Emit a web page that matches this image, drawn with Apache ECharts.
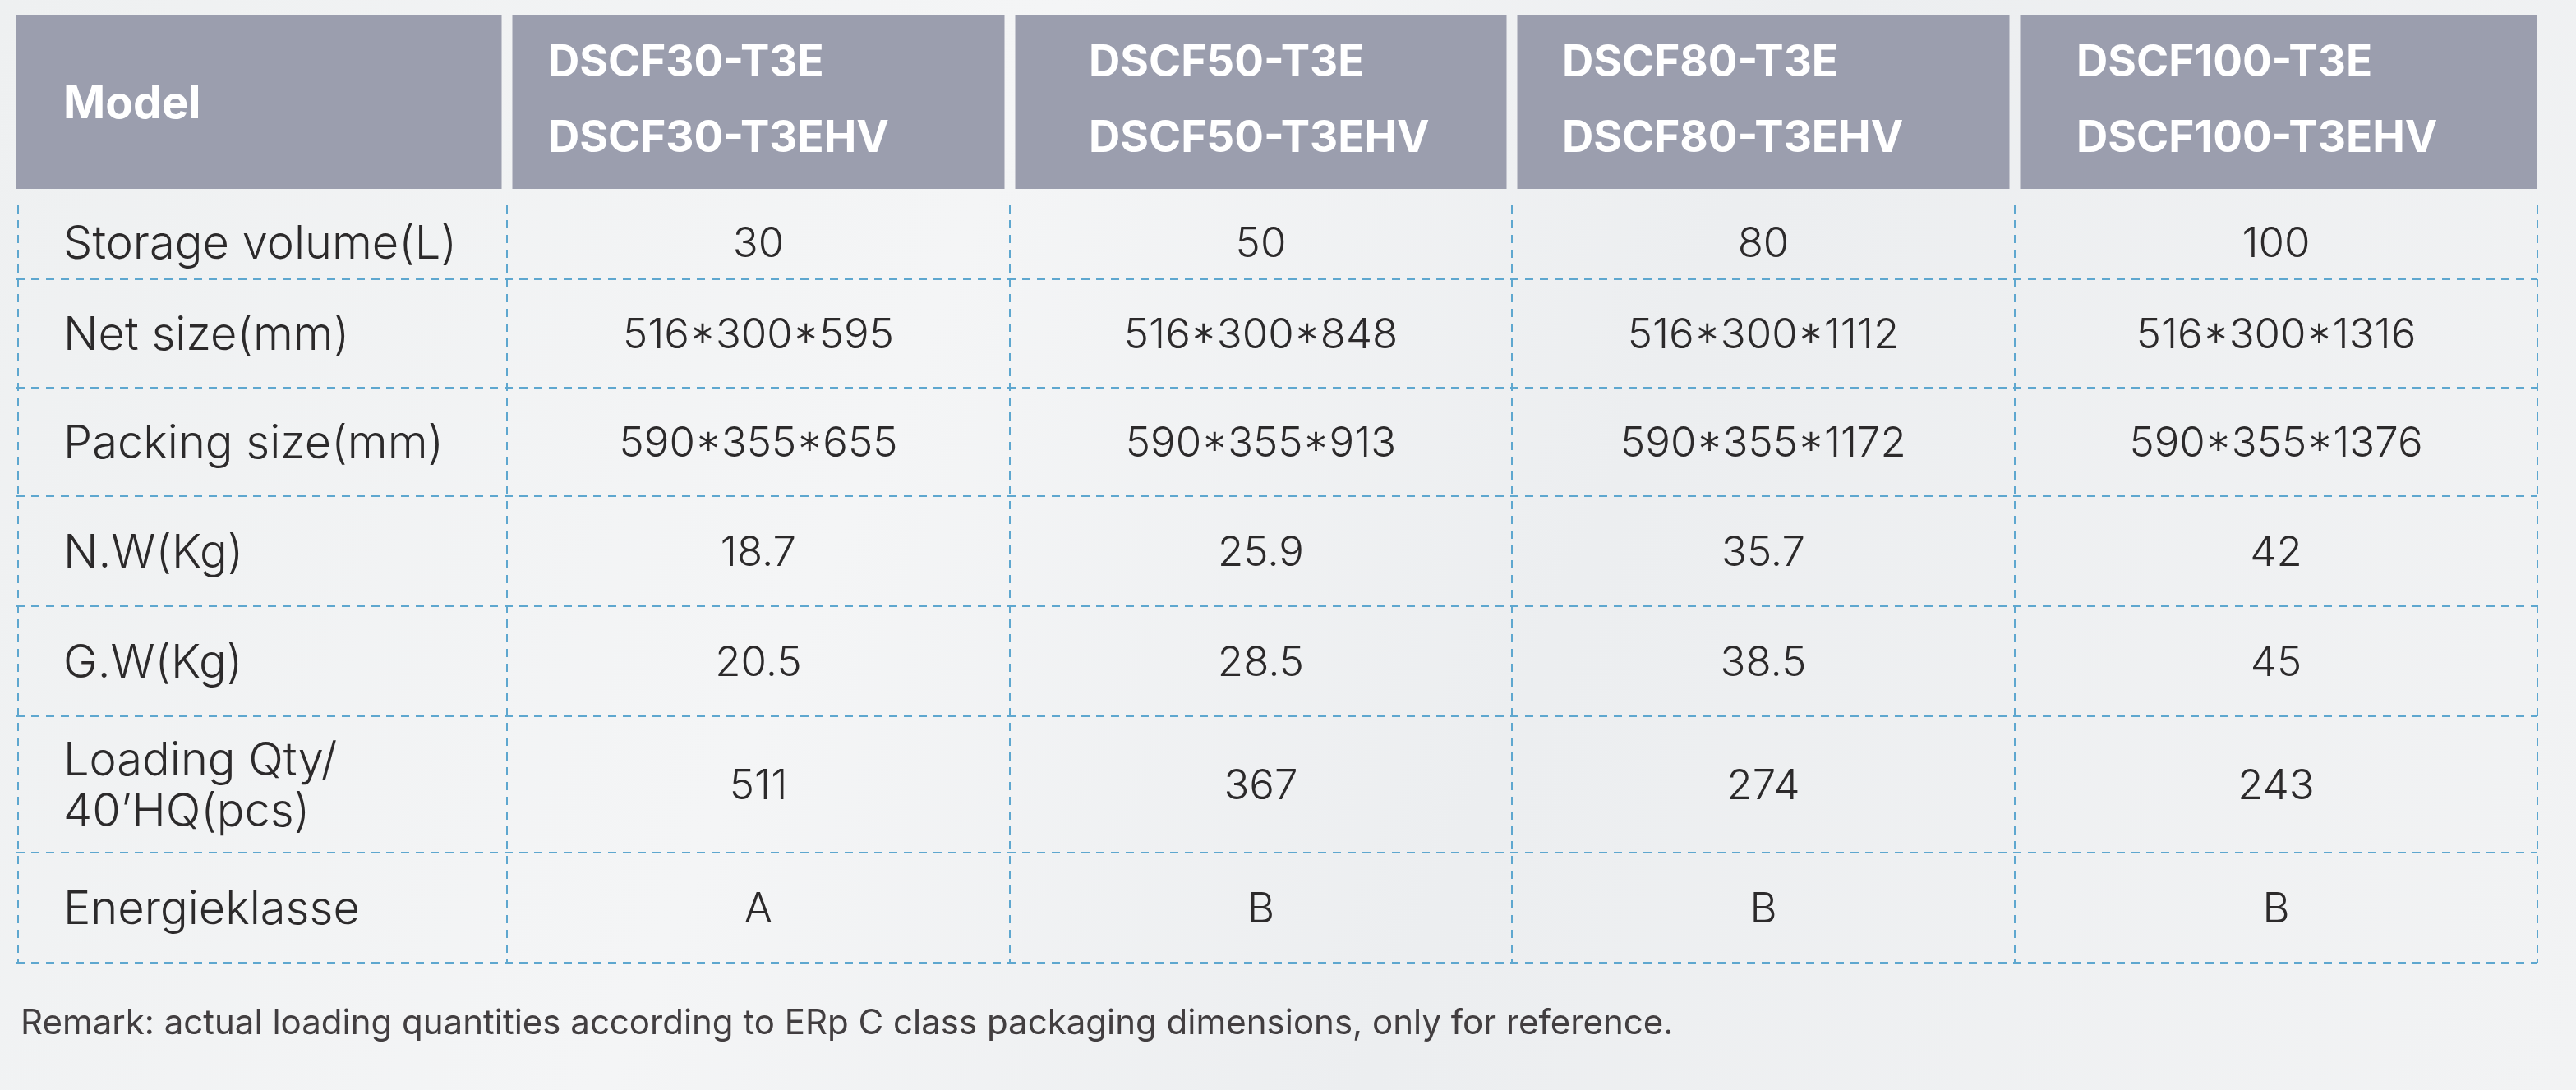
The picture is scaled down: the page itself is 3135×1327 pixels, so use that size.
<!DOCTYPE html>
<html><head><meta charset="utf-8">
<script src="https://cdn.jsdelivr.net/npm/echarts@6/dist/echarts.min.js"></script>
<style>html,body{margin:0;padding:0;background:#f1f2f3;}#chart{width:3135px;height:1327px;}</style>
</head><body><div id="chart"></div>
<script>
// ---- data ----
const headerLabel = 'Model';
const modelNames = [
  ['DSCF30-T3E', 'DSCF30-T3EHV'],
  ['DSCF50-T3E', 'DSCF50-T3EHV'],
  ['DSCF80-T3E', 'DSCF80-T3EHV'],
  ['DSCF100-T3E', 'DSCF100-T3EHV']
];
const rowLabels = ['Storage volume(L)', 'Net size(mm)', 'Packing size(mm)', 'N.W(Kg)', 'G.W(Kg)', 'Loading Qty/\n40’HQ(pcs)', 'Energieklasse'];
const dscf30 = ['30', '516*300*595', '590*355*655', '18.7', '20.5', '511', 'A'];
const dscf50 = ['50', '516*300*848', '590*355*913', '25.9', '28.5', '367', 'B'];
const dscf80 = ['80', '516*300*1112', '590*355*1172', '35.7', '38.5', '274', 'B'];
const dscf100 = ['100', '516*300*1316', '590*355*1376', '42', '45', '243', 'B'];
const remark = 'Remark: actual loading quantities according to ERp C class packaging dimensions, only for reference.';

// ---- layout (not data) ----
const colWidths = [597, 612, 611, 612, 636];
const headerTextOffsets = [57, 50, 96, 61, 75];
const headerHeight = 212, headerGap = 20;
const rowHeights = [90, 132, 132, 134, 134, 166, 134];
const FONT = 'Inter, "Open Sans", Lato, sans-serif';
const HEADER_FILL = '#9b9eae';
const LINE_COLOR = '#5ea7cf';

const colEdges = [0];
colWidths.forEach(w => colEdges.push(colEdges[colEdges.length - 1] + w));
const rowEdges = [headerHeight + headerGap];
rowHeights.forEach(h => rowEdges.push(rowEdges[rowEdges.length - 1] + h));
const totalW = colEdges[colEdges.length - 1];
const totalH = rowEdges[rowEdges.length - 1];

const valueCols = [dscf30, dscf50, dscf80, dscf100];

// cell data: [col, row]  (row -1 = header)
const cellData = [];
for (let c = 0; c < 5; c++) cellData.push([c, -1]);
for (let r = 0; r < rowLabels.length; r++) for (let c = 0; c < 5; c++) cellData.push([c, r]);

function cellText(c, r) {
  if (r < 0) return c === 0 ? headerLabel : modelNames[c - 1].join('\n');
  return c === 0 ? rowLabels[r] : valueCols[c - 1][r];
}

// grid lines data: [0, colEdgeIndex] vertical / [1, rowEdgeIndex] horizontal
const lineData = [];
for (let i = 0; i < colEdges.length; i++) lineData.push([0, i]);
for (let j = 1; j < rowEdges.length; j++) lineData.push([1, j]);

const chart = echarts.init(document.getElementById('chart'), null, {renderer: 'canvas'});
chart.setOption({
  backgroundColor: {
    type: 'linear', x: 0, y: 0, x2: 1, y2: 1,
    colorStops: [
      {offset: 0, color: '#eef0f1'},
      {offset: 0.35, color: '#f4f5f6'},
      {offset: 0.6, color: '#eceef0'},
      {offset: 1, color: '#f2f3f4'}
    ]
  },
  animation: false,
  title: {
    text: remark, left: 20, top: 1220,
    textStyle: {fontFamily: FONT, fontSize: 42, fontWeight: 'normal', color: '#423e40'}
  },
  grid: {left: 20, right: 47, top: 18, bottom: 155},
  xAxis: {type: 'value', min: 0, max: totalW, show: false},
  yAxis: {type: 'value', min: 0, max: totalH, inverse: true, show: false},
  series: [
    {
      type: 'custom',
      data: lineData,
      silent: true,
      renderItem: function (params, api) {
        const kind = api.value(0), idx = api.value(1);
        let a, b;
        if (kind === 0) {
          a = api.coord([colEdges[idx], rowEdges[0]]);
          b = api.coord([colEdges[idx], totalH]);
          const x = idx === 0 ? a[0] + 2 : a[0];
          return {type: 'line', shape: {x1: x, y1: a[1], x2: x, y2: b[1]},
            style: {stroke: LINE_COLOR, lineWidth: 2, lineDash: [10, 8]}};
        }
        a = api.coord([0, rowEdges[idx]]);
        b = api.coord([totalW, rowEdges[idx]]);
        return {type: 'line', shape: {x1: a[0], y1: a[1], x2: b[0], y2: b[1]},
          style: {stroke: LINE_COLOR, lineWidth: 2, lineDash: [10, 8]}};
      }
    },
    {
      type: 'custom',
      data: cellData,
      silent: true,
      renderItem: function (params, api) {
        const c = api.value(0), r = api.value(1);
        const txt = cellText(c, r);
        if (r < 0) {
          const p0 = api.coord([colEdges[c], 0]);
          const p1 = api.coord([colEdges[c + 1], headerHeight]);
          const inL = c === 0 ? 0 : 6.5, inR = c === 4 ? 0 : 6.5;
          const x0 = p0[0] + inL, x1 = p1[0] - inR;
          const font = (c === 0 ? '700 55px ' : '700 53px ') + FONT;
          return {
            type: 'group',
            children: [
              {type: 'rect', shape: {x: x0, y: p0[1], width: x1 - x0, height: p1[1] - p0[1]},
                style: {fill: HEADER_FILL}},
              {type: 'text', x: p0[0] + headerTextOffsets[c], y: (p0[1] + p1[1]) / 2 + (c === 0 ? 3 : -1),
                style: {text: txt, fill: '#ffffff', font: font, align: 'left', verticalAlign: 'middle', lineHeight: 92}}
            ]
          };
        }
        const p0 = api.coord([colEdges[c], rowEdges[r]]);
        const p1 = api.coord([colEdges[c + 1], rowEdges[r + 1]]);
        const font = (c === 0 ? '300 56px ' : '300 51px ') + FONT;
        return {
          type: 'text',
          x: c === 0 ? p0[0] + 57 : (p0[0] + p1[0]) / 2,
          y: (p0[1] + p1[1]) / 2 + 3,
          style: {text: txt, fill: '#2c2a2b', font: font, align: c === 0 ? 'left' : 'center',
            verticalAlign: 'middle', lineHeight: 62}
        };
      }
    }
  ]
});
</script></body></html>
